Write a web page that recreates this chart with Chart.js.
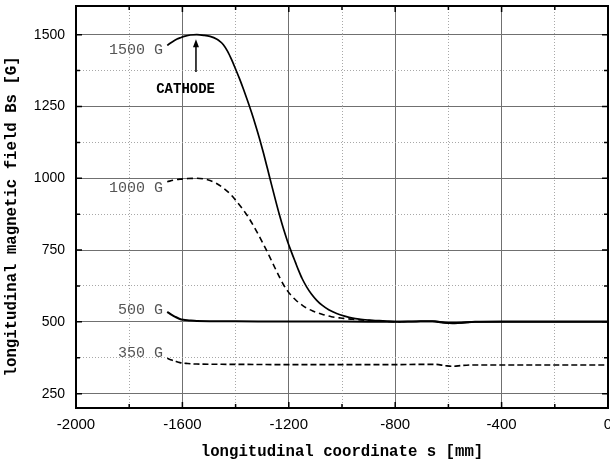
<!DOCTYPE html>
<html>
<head>
<meta charset="utf-8">
<script src="https://cdn.jsdelivr.net/npm/chart.js@4.4.0/dist/chart.umd.min.js"></script>
<style>
  html, body { margin: 0; padding: 0; background: #fff; }
  #wrap { width: 610px; height: 465px; }
</style>
</head>
<body>
<div id="wrap"><canvas id="bsChart"></canvas></div>
<script>
// longitudinal coordinate s [mm] and field Bs [G] for each setting
var s1500 = [-1657, -1640, -1620, -1609, -1590, -1570, -1546, -1520, -1496, -1470, -1458, -1446, -1430, -1415,
    -1400, -1385, -1370, -1355, -1340, -1325, -1310, -1295, -1280, -1265, -1250, -1235, -1220, -1205, -1190,
    -1175, -1164, -1150, -1133, -1115, -1095, -1075, -1050, -1020, -990, -960, -930, -900, -860, -820, -780,
    -720, -690, -660, -635, -610, -585, -560, -530, -500, -400, -300, -200, -100, 0];
var b1500 = [1463, 1474, 1485, 1489, 1495, 1499, 1500, 1498, 1494, 1484, 1476, 1465, 1442, 1413,
    1380, 1346, 1309, 1270, 1229, 1185, 1138, 1087, 1033, 978, 924, 872, 824, 781, 743,
    707, 681, 651, 622, 597, 575, 558, 542, 529, 520, 513, 509, 506, 504, 502, 501,
    501, 502, 502, 499, 496, 495, 496, 498, 500, 500, 500, 500, 500, 500];

var s1000 = [-1657, -1630, -1609, -1580, -1546, -1520, -1496, -1470, -1446, -1420, -1396, -1378, -1358, -1340,
    -1321, -1302, -1283, -1265, -1250, -1235, -1221, -1205, -1190, -1175, -1160, -1145, -1133, -1110, -1090,
    -1070, -1040, -1010, -995, -960, -932, -900, -860, -820, -780];
var b1000 = [988, 994, 997, 999, 1000, 998, 992, 981, 966, 945, 919, 898, 873, 846,
    815, 782, 748, 713, 684, 656, 631, 608, 591, 577, 565, 555, 548, 538, 531,
    525, 518, 514, 512, 509, 507, 505, 503, 501, 500];

var s500 = [-1657, -1640, -1628, -1612, -1597, -1575, -1546, -1400, -1200, -1000, -800, -705, -650, -620, -583, -550, -500, -400, -200, 0];
var b500 = [535, 524, 518, 511, 507, 505, 503, 502, 501, 501, 500, 502, 502, 498, 496, 497, 500, 501, 501, 501];

var s350 = [-1657, -1640, -1630, -1609, -1580, -1546, -1400, -1200, -1000, -800, -700, -650, -610, -583, -550, -500, -400, -200, 0];
var b350 = [373, 367, 364, 358, 355, 353, 352, 351, 351, 351, 352, 352, 347, 345, 348, 350, 350, 350, 350];

var xTicks = [-2000, -1800, -1600, -1400, -1200, -1000, -800, -600, -400, -200, 0];
var yTicks = [250, 375, 500, 625, 750, 875, 1000, 1125, 1250, 1375, 1500];

var curveNames = ['1500 G', '1000 G', '500 G', '350 G'];

function pts(xs, ys) {
    return xs.map(function (x, i) { return { x: x, y: ys[i] }; });
}

// text next to the curves, placed in data coordinates
var notes = [
    { text: '1500 G', s: -1673, b: 1447, font: '15px "Liberation Mono"', color: '#555', align: 'right' },
    { text: '1000 G', s: -1673, b: 966, font: '15px "Liberation Mono"', color: '#555', align: 'right' },
    { text: '500 G', s: -1673, b: 541, font: '15px "Liberation Mono"', color: '#555', align: 'right' },
    { text: '350 G', s: -1673, b: 392, font: '15px "Liberation Mono"', color: '#555', align: 'right' },
    { text: 'CATHODE', s: -1588, b: 1311, font: 'bold 14px "Liberation Mono"', color: '#000', align: 'center' }
];

var notesPlugin = {
    id: 'notes',
    afterDatasetsDraw: function (chart) {
        var ctx = chart.ctx, xs = chart.scales.x, ys = chart.scales.y;
        ctx.save();
        ctx.textBaseline = 'middle';
        notes.forEach(function (n) {
            ctx.font = n.font;
            ctx.fillStyle = n.color;
            ctx.textAlign = n.align;
            ctx.fillText(n.text, xs.getPixelForValue(n.s), ys.getPixelForValue(n.b));
        });
        // arrow pointing at the cathode
        var ax = xs.getPixelForValue(-1549);
        var y0 = ys.getPixelForValue(1370), y1 = ys.getPixelForValue(1484);
        ctx.strokeStyle = '#000';
        ctx.fillStyle = '#000';
        ctx.lineWidth = 1.5;
        ctx.beginPath();
        ctx.moveTo(ax, y0);
        ctx.lineTo(ax, y1 + 6);
        ctx.stroke();
        ctx.beginPath();
        ctx.moveTo(ax, y1);
        ctx.lineTo(ax - 3, y1 + 8);
        ctx.lineTo(ax + 3, y1 + 8);
        ctx.closePath();
        ctx.fill();
        ctx.restore();
    }
};

// closed frame with inward tick marks
var framePlugin = {
    id: 'frame',
    afterDraw: function (chart) {
        var ctx = chart.ctx, a = chart.chartArea;
        var xs = chart.scales.x, ys = chart.scales.y;
        ctx.save();
        ctx.strokeStyle = '#000';
        ctx.lineWidth = 2;
        ctx.strokeRect(a.left, a.top, a.right - a.left, a.bottom - a.top);
        ctx.lineWidth = 1.5;
        ctx.beginPath();
        xTicks.forEach(function (v) {
            var px = xs.getPixelForValue(v), len = v % 400 === 0 ? 6 : 4;
            ctx.moveTo(px, a.bottom); ctx.lineTo(px, a.bottom - len);
            ctx.moveTo(px, a.top); ctx.lineTo(px, a.top + len);
        });
        yTicks.forEach(function (v) {
            var py = ys.getPixelForValue(v), len = v % 250 === 0 ? 6 : 4;
            ctx.moveTo(a.left, py); ctx.lineTo(a.left + len, py);
            ctx.moveTo(a.right, py); ctx.lineTo(a.right - len, py);
        });
        ctx.stroke();
        ctx.restore();
    }
};

var ctx = document.getElementById('bsChart').getContext('2d');
new Chart(ctx, {
    type: 'line',
    data: {
        datasets: [
            { label: curveNames[0], data: pts(s1500, b1500), borderColor: '#000', borderWidth: 1.7 },
            { label: curveNames[1], data: pts(s1000, b1000), borderColor: '#000', borderWidth: 1.6, borderDash: [6, 4] },
            { label: curveNames[2], data: pts(s500, b500), borderColor: '#000', borderWidth: 2 },
            { label: curveNames[3], data: pts(s350, b350), borderColor: '#000', borderWidth: 1.6, borderDash: [6, 3] }
        ]
    },
    options: {
        responsive: true,
        maintainAspectRatio: false,
        animation: false,
        layout: { padding: { top: 6, right: 2, left: 0, bottom: 0 } },
        elements: {
            point: { radius: 0 },
            line: { cubicInterpolationMode: 'monotone', fill: false }
        },
        plugins: { legend: { display: false }, tooltip: { enabled: false } },
        scales: {
            x: {
                type: 'linear',
                min: -2000,
                max: 0,
                afterBuildTicks: function (scale) {
                    scale.ticks = xTicks.map(function (v) { return { value: v }; });
                },
                afterFit: function (scale) {
                    scale.height = 57;
                    scale.paddingLeft = 0;
                    scale.paddingRight = 0;
                },
                ticks: {
                    autoSkip: false,
                    maxRotation: 0,
                    padding: 8,
                    color: '#000',
                    font: { family: '"Liberation Sans", Arial', size: 15 },
                    callback: function (v) { return v % 400 === 0 ? v : ''; }
                },
                grid: {
                    drawTicks: false,
                    color: function (c) { return c.tick && c.tick.value % 400 !== 0 ? '#a8a8a8' : '#707070'; }
                },
                border: {
                    color: '#000',
                    width: 2,
                    dash: function (c) { return c.tick && c.tick.value % 400 !== 0 ? [1, 2] : []; }
                },
                title: {
                    display: true,
                    text: 'longitudinal coordinate s [mm]',
                    color: '#000',
                    font: { family: '"Liberation Mono", monospace', size: 15.7, weight: 'bold' },
                    padding: { top: 9, bottom: 4 }
                }
            },
            y: {
                type: 'linear',
                min: 200,
                max: 1600,
                afterBuildTicks: function (scale) {
                    scale.ticks = yTicks.map(function (v) { return { value: v }; });
                },
                afterFit: function (scale) {
                    scale.width = 76;
                    scale.paddingTop = 0;
                    scale.paddingBottom = 0;
                },
                ticks: {
                    autoSkip: false,
                    padding: 11,
                    color: '#000',
                    font: { family: '"Liberation Sans", Arial', size: 14 },
                    callback: function (v) { return v % 250 === 0 ? v : ''; }
                },
                grid: {
                    drawTicks: false,
                    color: function (c) { return c.tick && c.tick.value % 250 !== 0 ? '#a8a8a8' : '#707070'; }
                },
                border: {
                    color: '#000',
                    width: 2,
                    dash: function (c) { return c.tick && c.tick.value % 250 !== 0 ? [1, 2] : []; }
                },
                title: {
                    display: true,
                    text: 'longitudinal magnetic field Bs [G]  ',
                    color: '#000',
                    font: { family: '"Liberation Mono", monospace', size: 15.7, weight: 'bold' },
                    padding: { top: 3, bottom: 12 }
                }
            }
        }
    },
    plugins: [notesPlugin, framePlugin]
});
</script>
</body>
</html>
